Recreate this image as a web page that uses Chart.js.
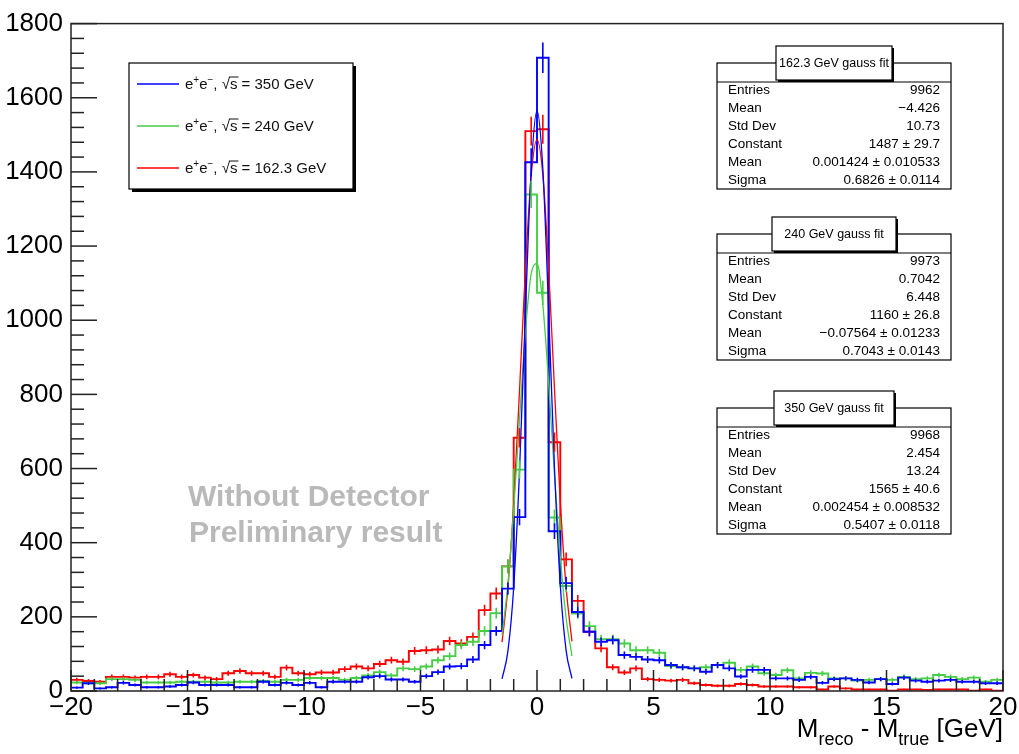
<!DOCTYPE html>
<html>
<head>
<meta charset="utf-8">
<script src="https://cdn.jsdelivr.net/npm/chart.js@4.4.0/dist/chart.umd.min.js"></script>
<style>
html, body { margin: 0; padding: 0; background: #fff; }
#wrap { width: 1019px; height: 754px; }
</style>
</head>
<body>
<div id="wrap"><canvas id="chart" width="1019" height="754"></canvas></div>
<script>
// binning of the three histograms
const xMin = -20;
const xMax = 20;
const binWidth = 0.5;

const xTickLabels = [-20, -15, -10, -5, 0, 5, 10, 15, 20];
const yTickLabels = [0, 200, 400, 600, 800, 1000, 1200, 1400, 1600, 1800];

const energies = ['350 GeV', '240 GeV', '162.3 GeV'];

// bin contents, left to right (bin 0 = [-20, -19.5])
const counts350 = [
    9, 21, 7, 10, 22, 16, 10, 10, 12, 16, 23, 16, 16, 16, 10, 10, 25, 16, 22, 16,
    22, 10, 25, 25, 25, 37, 40, 31, 31, 25, 40, 51, 66, 67, 85, 124, 162, 276,
    469, 1426, 1708, 431, 291, 213,
    160, 133, 137, 97, 92, 85, 83, 70, 64, 61, 52, 70, 61, 39, 57, 57,
    34, 34, 30, 38, 22, 32, 34, 30, 23, 32, 19, 36, 28, 25, 28, 30, 25, 25, 21, 21
];
const counts240 = [
    23, 21, 21, 32, 32, 30, 23, 23, 23, 25, 25, 25, 23, 23, 25, 25, 27, 25, 30, 30,
    35, 35, 35, 30, 35, 42, 51, 42, 61, 59, 66, 83, 94, 124, 133, 162, 210, 336,
    597, 1339, 1074, 468, 283, 209,
    175, 140, 140, 128, 110, 110, 103, 67, 64, 61, 64, 70, 76, 57, 66, 48,
    43, 56, 34, 49, 47, 34, 34, 28, 30, 32, 30, 38, 32, 34, 43, 38, 32, 36, 25, 30
];
const counts162 = [
    30, 27, 25, 38, 38, 36, 38, 38, 45, 38, 43, 36, 32, 48, 54, 48, 48, 38, 63, 48,
    45, 50, 50, 59, 66, 61, 73, 83, 79, 108, 110, 112, 135, 128, 146, 218, 263, 336,
    683, 1510, 1515, 671, 355, 243,
    160, 115, 64, 50, 61, 32, 30, 28, 30, 21, 16, 14, 14, 19, 16, 12,
    12, 12, 10, 10, 4, 12, 7, 4, 4, 4, 1, 4, 4, 3, 4, 4, 4, 1, 4, 1
];

// gauss fit curves
const fitX = [-1.5, -1.25, -1, -0.75, -0.5, -0.25, 0, 0.25, 0.5, 0.75, 1, 1.25, 1.5];
const fit350 = [33, 107, 280, 594, 1016, 1403, 1565, 1409, 1025, 602, 285, 109, 34];
const fit240 = [150, 289, 490, 733, 967, 1125, 1153, 1042, 831, 583, 361, 197, 95];
const fit162 = [132, 277, 507, 811, 1135, 1389, 1487, 1392, 1139, 815, 510, 279, 134];

// stat boxes
const statLabels = ['Entries', 'Mean', 'Std Dev', 'Constant', 'Mean', 'Sigma'];
const statTitles = ['162.3 GeV gauss fit', '240 GeV gauss fit', '350 GeV gauss fit'];
const stats162 = ['9962', '\u22124.426', '10.73', '1487 \u00b1 29.7', '0.001424 \u00b1 0.010533', '0.6826 \u00b1 0.0114'];
const stats240 = ['9973', '0.7042', '6.448', '1160 \u00b1 26.8', '\u22120.07564 \u00b1 0.01233', '0.7043 \u00b1 0.0143'];
const stats350 = ['9968', '2.454', '13.24', '1565 \u00b1 40.6', '0.002454 \u00b1 0.008532', '0.5407 \u00b1 0.0118'];

const FONT = '"Liberation Sans", Arial, Helvetica, sans-serif';
const BLUE = 'rgb(0, 0, 255)';
const GREEN = 'rgb(70, 205, 70)';
const RED = 'rgb(255, 0, 0)';

function histPoints(counts) {
    // left edge of every bin plus the right edge of the last one
    const pts = counts.map((c, i) => ({ x: xMin + i * binWidth, y: c }));
    pts.push({ x: xMax, y: counts[counts.length - 1] });
    return pts;
}

function fitPoints(vals) {
    return fitX.map((x, i) => ({ x: x, y: vals[i] }));
}

function fmtTick(v) {
    return v < 0 ? '\u2212' + Math.abs(v) : String(v);
}

function line(ctx, x1, y1, x2, y2) {
    ctx.beginPath();
    ctx.moveTo(x1, y1);
    ctx.lineTo(x2, y2);
    ctx.stroke();
}

// text made of pieces of different size / vertical offset
function drawPieces(ctx, x, y, pieces) {
    let cx = x;
    pieces.forEach(p => {
        ctx.font = p[1] + 'px ' + FONT;
        ctx.fillText(p[0], cx, y + (p[2] || 0));
        cx += ctx.measureText(p[0]).width;
    });
    return cx;
}

function piecesWidth(ctx, pieces) {
    let w = 0;
    pieces.forEach(p => {
        ctx.font = p[1] + 'px ' + FONT;
        w += ctx.measureText(p[0]).width;
    });
    return w;
}

function drawLegend(ctx) {
    const bx = 129, by = 63, bw = 224, bh = 126;
    ctx.save();
    ctx.fillStyle = '#000';
    ctx.fillRect(bx + 3, by + 3, bw, bh);
    ctx.fillStyle = '#fff';
    ctx.fillRect(bx, by, bw, bh);
    ctx.strokeStyle = '#000';
    ctx.lineWidth = 1.2;
    ctx.strokeRect(bx, by, bw, bh);

    const colors = [BLUE, GREEN, RED];
    const rows = [84, 126, 168];
    ctx.textBaseline = 'alphabetic';
    energies.forEach((e, i) => {
        const y = rows[i];
        ctx.strokeStyle = colors[i];
        ctx.lineWidth = 1.5;
        line(ctx, 137, y, 179, y);
        ctx.fillStyle = '#111';
        let cx = drawPieces(ctx, 185, y + 5, [['e', 15], ['+', 10, -6], ['e', 15], ['\u2212', 10, -6], [', ', 15]]);
        cx = drawPieces(ctx, cx, y + 5, [['\u221a', 15]]);
        const sx = cx;
        cx = drawPieces(ctx, cx, y + 5, [['s', 15]]);
        ctx.strokeStyle = '#111';
        ctx.lineWidth = 1;
        line(ctx, sx - 1, y - 7, cx + 1, y - 7);
        drawPieces(ctx, cx, y + 5, [[' = ' + e, 15]]);
    });
    ctx.restore();
}

function drawStatBox(ctx, title, values, bx, by, tw) {
    const bw = 234, bh = 126;
    ctx.save();
    ctx.fillStyle = '#fff';
    ctx.fillRect(bx, by, bw, bh);
    ctx.strokeStyle = '#000';
    ctx.lineWidth = 1.2;
    ctx.strokeRect(bx, by, bw, bh);
    line(ctx, bx, by + 19, bx + bw, by + 19);

    // title pave with shadow
    const tx = bx + bw / 2 - tw / 2, ty = by - 17, th = 34;
    ctx.fillStyle = '#000';
    ctx.fillRect(tx + 2, ty + 2, tw, th);
    ctx.fillStyle = '#fff';
    ctx.fillRect(tx, ty, tw, th);
    ctx.strokeRect(tx, ty, tw, th);
    ctx.fillStyle = '#000';
    ctx.font = '12.5px ' + FONT;
    ctx.textAlign = 'center';
    ctx.textBaseline = 'middle';
    ctx.fillText(title, tx + tw / 2, ty + th / 2 + 1);

    ctx.font = '13.5px ' + FONT;
    statLabels.forEach((lab, i) => {
        const y = by + 27 + i * 18;
        ctx.textAlign = 'left';
        ctx.fillText(lab, bx + 11, y);
        ctx.textAlign = 'right';
        ctx.fillText(values[i], bx + bw - 11, y);
    });
    ctx.restore();
}

const rootPlot = {
    id: 'rootPlot',
    afterDatasetsDraw(chart) {
        const ctx = chart.ctx, xs = chart.scales.x, ys = chart.scales.y, a = chart.chartArea;
        ctx.save();
        ctx.beginPath();
        ctx.rect(a.left, a.top, a.right - a.left, a.bottom - a.top);
        ctx.clip();
        ctx.lineWidth = 1.6;
        [[counts162, RED], [counts240, GREEN], [counts350, BLUE]].forEach(([counts, col]) => {
            ctx.strokeStyle = col;
            counts.forEach((c, i) => {
                const err = Math.sqrt(c);
                const px = xs.getPixelForValue(xMin + (i + 0.5) * binWidth);
                line(ctx, px, ys.getPixelForValue(c - err), px, ys.getPixelForValue(c + err));
            });
        });
        ctx.restore();
    },
    afterDraw(chart) {
        const ctx = chart.ctx, xs = chart.scales.x, ys = chart.scales.y, a = chart.chartArea;
        ctx.save();
        ctx.strokeStyle = '#222';
        ctx.lineWidth = 1.5;
        for (let v = xMin; v <= xMax; v += 1) {
            const px = xs.getPixelForValue(v);
            line(ctx, px, a.bottom, px, a.bottom - (v % 5 === 0 ? 21 : 12));
        }
        for (let v = 0; v <= 1800; v += 40) {
            const py = ys.getPixelForValue(v);
            line(ctx, a.left, py, a.left + (v % 200 === 0 ? 26 : 13), py);
        }
        ctx.strokeRect(a.left, a.top, a.right - a.left, a.bottom - a.top);

        // watermark
        ctx.fillStyle = 'rgb(185, 185, 185)';
        ctx.font = 'bold 30px ' + FONT;
        ctx.textAlign = 'left';
        ctx.textBaseline = 'alphabetic';
        ctx.fillText('Without Detector', 188, 506);
        ctx.fillText('Preliminary result', 189, 542);

        // x axis title
        ctx.fillStyle = '#000';
        const title = [['M', 26], ['reco', 18, 8], [' - M', 26], ['true', 18, 8], [' [GeV]', 26]];
        drawPieces(ctx, a.right - piecesWidth(ctx, title), 737, title);
        ctx.restore();

        drawLegend(ctx);
        drawStatBox(ctx, statTitles[0], stats162, 717, 63, 116);
        drawStatBox(ctx, statTitles[1], stats240, 717, 234, 124);
        drawStatBox(ctx, statTitles[2], stats350, 717, 408, 120);
    }
};

const histStyle = { type: 'line', stepped: 'before', pointRadius: 0, borderWidth: 1.9, fill: false };
const fitStyle = { type: 'line', cubicInterpolationMode: 'monotone', pointRadius: 0, borderWidth: 1.3, fill: false, order: 0 };

new Chart(document.getElementById('chart'), {
    type: 'line',
    data: {
        datasets: [
            Object.assign({ label: 'fit 350', data: fitPoints(fit350), borderColor: BLUE }, fitStyle),
            Object.assign({ label: 'fit 240', data: fitPoints(fit240), borderColor: GREEN }, fitStyle),
            Object.assign({ label: 'fit 162.3', data: fitPoints(fit162), borderColor: RED }, fitStyle),
            Object.assign({ label: energies[0], data: histPoints(counts350), borderColor: BLUE, order: 1 }, histStyle),
            Object.assign({ label: energies[1], data: histPoints(counts240), borderColor: GREEN, order: 2 }, histStyle),
            Object.assign({ label: energies[2], data: histPoints(counts162), borderColor: RED, order: 3 }, histStyle)
        ]
    },
    options: {
        responsive: false,
        devicePixelRatio: 1,
        animation: false,
        layout: { padding: { top: 21, right: 16, left: 0, bottom: 0 } },
        plugins: {
            legend: { display: false },
            tooltip: { enabled: false }
        },
        scales: {
            x: {
                type: 'linear',
                min: xMin,
                max: xMax,
                grid: { display: false, drawTicks: false },
                border: { display: false },
                afterBuildTicks: s => { s.ticks = xTickLabels.map(v => ({ value: v })); },
                afterFit: s => { s.height = 63; },
                ticks: {
                    autoSkip: false,
                    maxRotation: 0,
                    padding: 1,
                    color: '#000',
                    font: { family: FONT, size: 26 },
                    callback: v => fmtTick(v)
                }
            },
            y: {
                type: 'linear',
                min: 0,
                max: 1800,
                grid: { display: false, drawTicks: false },
                border: { display: false },
                afterBuildTicks: s => { s.ticks = yTickLabels.map(v => ({ value: v })); },
                afterFit: s => { s.width = 71; },
                ticks: {
                    autoSkip: false,
                    padding: 8,
                    color: '#000',
                    font: { family: FONT, size: 26 },
                    callback: v => fmtTick(v)
                }
            }
        }
    },
    plugins: [rootPlot]
});
</script>
</body>
</html>
